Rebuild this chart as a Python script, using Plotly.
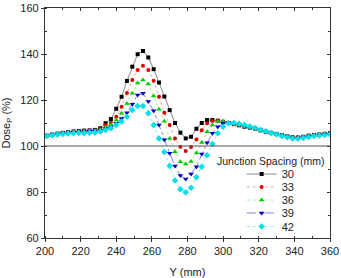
import plotly.graph_objects as go

y_pos = list(range(201, 361, 3))

dose_30 = [104.5, 105.0, 105.4, 105.7, 106.0, 106.3, 106.5, 106.7, 106.8, 107.0,
           107.7, 109.9, 111.7, 116.2, 121.4, 128.3, 134.5, 139.9, 141.3, 138.5,
           133.4, 127.6, 121.5, 115.6, 110.0, 105.8, 103.3, 104.0, 107.5, 110.0,
           111.3, 111.3, 111.0, 110.5, 110.0, 109.5, 109.0, 108.4, 108.0, 107.5,
           106.8, 106.2, 105.7, 105.2, 104.7, 104.2, 103.8, 103.7, 104.0, 104.5,
           104.8, 105.0, 105.3, 105.5]
dose_33 = [104.5, 104.9, 105.3, 105.6, 105.9, 106.1, 106.3, 106.5, 106.6, 106.8,
           107.3, 109.0, 110.1, 112.7, 117.1, 123.0, 128.7, 133.0, 134.9, 133.0,
           128.4, 121.4, 114.5, 109.1, 103.3, 99.7, 97.8, 99.6, 102.8, 106.9,
           109.9, 110.9, 111.0, 110.6, 110.1, 109.6, 109.1, 108.5, 108.0, 107.4,
           106.8, 106.2, 105.6, 105.1, 104.6, 104.1, 103.8, 103.7, 104.0, 104.4,
           104.8, 105.0, 105.2, 105.4]
dose_36 = [104.4, 104.8, 105.2, 105.5, 105.8, 106.0, 106.2, 106.4, 106.5, 106.6,
           107.0, 108.2, 109.2, 111.3, 114.2, 118.5, 122.9, 127.4, 128.7, 127.0,
           121.7, 116.0, 110.8, 103.3, 97.5, 93.2, 92.2, 93.3, 97.0, 101.5,
           106.2, 109.1, 110.6, 110.6, 110.2, 109.8, 109.3, 108.7, 108.1, 107.5,
           106.9, 106.3, 105.7, 105.1, 104.5, 104.0, 103.6, 103.5, 103.8, 104.2,
           104.6, 104.9, 105.1, 105.3]
dose_39 = [104.4, 104.8, 105.1, 105.4, 105.6, 105.8, 106.0, 106.2, 106.3, 106.4,
           106.8, 107.6, 108.3, 109.9, 112.0, 114.5, 118.2, 122.2, 122.9, 119.3,
           115.3, 109.1, 102.7, 96.8, 91.3, 87.2, 85.6, 87.8, 91.0, 96.5,
           101.4, 105.5, 108.4, 109.9, 110.2, 109.9, 109.4, 108.8, 108.2, 107.6,
           107.0, 106.3, 105.7, 105.1, 104.5, 104.0, 103.5, 103.4, 103.7, 104.1,
           104.5, 104.8, 105.0, 105.2]
dose_42 = [104.3, 104.7, 105.0, 105.2, 105.4, 105.5, 105.6, 105.7, 105.8, 105.9,
           106.3, 107.0, 107.7, 109.1, 110.6, 112.7, 115.7, 117.4, 117.4, 114.2,
           109.1, 103.3, 97.4, 91.3, 85.0, 81.2, 79.9, 81.8, 86.4, 91.0,
           96.0, 100.9, 105.5, 108.4, 109.9, 110.0, 109.7, 109.1, 108.5, 107.8,
           107.1, 106.4, 105.7, 105.0, 104.4, 103.8, 103.3, 103.2, 103.5, 103.9,
           104.3, 104.6, 104.8, 105.0]

series_names = ["30", "33", "36", "39", "42"]
series_values = [dose_30, dose_33, dose_36, dose_39, dose_42]
marker_colors = ["#000000", "#e00000", "#00d000", "#0000c0", "#00e0e8"]
line_colors = ["#888888", "#f4a0a0", "#a0eea0", "#8080e8", "#90f0f0"]
line_dashes = ["solid", "dot", "dot", "dashdot", "dot"]
symbols = ["square", "circle", "triangle-up", "triangle-down", "diamond"]
sizes = [4, 4, 5, 5, 5]
legend_ids = ["legend", "legend2", "legend3", "legend4", "legend5"]
legend_y = [0.278, 0.222, 0.165, 0.109, 0.050]

font_family = "Liberation Sans, Arial, sans-serif"
fs = 11

fig = go.Figure()
for name, vals, mc, lc, dash, sym, sz, lid in zip(series_names, series_values, marker_colors,
                                                 line_colors, line_dashes, symbols, sizes,
                                                 legend_ids):
    fig.add_trace(go.Scatter(
        x=y_pos, y=vals, name=name, mode="lines+markers", legend=lid,
        line=dict(color=lc, width=1, dash=dash),
        marker=dict(color=mc, symbol=sym, size=sz, line=dict(width=0)),
    ))

fig.add_hline(y=100, line=dict(color="#555555", width=1.2))

axis_common = dict(showline=True, linecolor="#333333", linewidth=1.2,
                   showgrid=False, zeroline=False, automargin=False,
                   tickfont=dict(size=fs, color="#222222", family=font_family))

legends = {}
for lid, ly in zip(legend_ids, legend_y):
    legends[lid] = dict(x=0.69, y=ly, xanchor="left", yanchor="middle",
                        bgcolor="rgba(0,0,0,0)", font=dict(size=fs),
                        itemwidth=30, borderwidth=0)

fig.update_layout(
    width=341, height=278,
    margin=dict(l=45, r=11, t=8, b=40),
    paper_bgcolor="white", plot_bgcolor="white",
    font=dict(family=font_family, size=fs, color="#222222"),
    showlegend=True,
    xaxis=dict(range=[200, 360], tickvals=list(range(200, 361, 20)),
               ticks="outside", ticklen=3, tickcolor="#333333",
               minor=dict(dtick=10, ticks="inside", ticklen=2, tickcolor="#333333"),
               title=dict(text="Y (mm)", font=dict(size=fs)),
               **axis_common),
    yaxis=dict(range=[60, 160], tickvals=list(range(60, 161, 20)),
               ticks="outside", ticklen=3, tickcolor="#333333",
               minor=dict(dtick=10, ticks="inside", ticklen=2, tickcolor="#333333"),
               title=dict(text="Dose<sub>P</sub> (%)", font=dict(size=fs)),
               **axis_common),
    xaxis2=dict(overlaying="x", side="top", range=[200, 360],
                tickvals=list(range(200, 361, 20)), showticklabels=False,
                ticks="inside", ticklen=3, tickcolor="#333333",
                minor=dict(dtick=10, ticks="inside", ticklen=2, tickcolor="#333333"),
                anchor="y", **axis_common),
    yaxis2=dict(overlaying="y", side="right", range=[60, 160],
                tickvals=list(range(60, 161, 20)), showticklabels=False,
                ticks="inside", ticklen=3, tickcolor="#333333",
                minor=dict(dtick=10, ticks="inside", ticklen=2, tickcolor="#333333"),
                anchor="x", **axis_common),
    annotations=[dict(text="Junction Spacing (mm)", xref="paper", yref="paper",
                      x=0.595, y=0.335, xanchor="left", yanchor="middle",
                      showarrow=False, font=dict(size=10.5, color="#222222"))],
    **legends,
)
fig.add_trace(go.Scatter(x=[None], y=[None], xaxis="x2", yaxis="y2",
                         showlegend=False, hoverinfo="skip"))

fig.write_html("out.html", config={"displayModeBar": False},
               post_script="document.body.style.margin='0';")
